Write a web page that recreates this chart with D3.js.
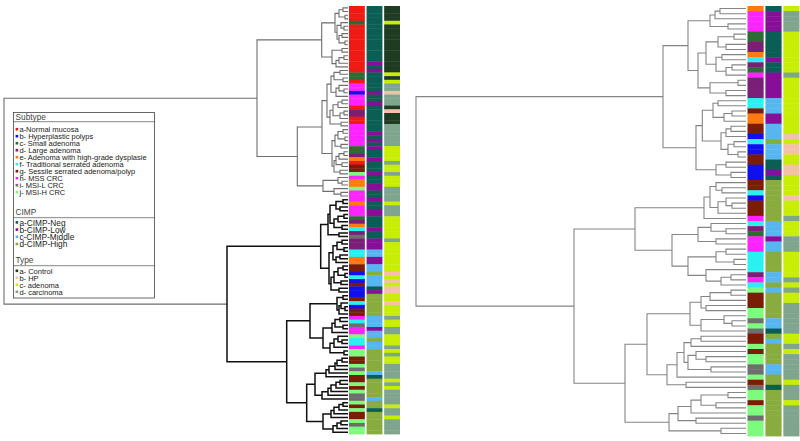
<!DOCTYPE html>
<html>
<head>
<meta charset="utf-8">
<script src="https://cdn.jsdelivr.net/npm/d3@7/dist/d3.min.js"></script>
<style>
  body { margin: 0; background: #fff; }
  text { font-family: "Liberation Sans", Arial, sans-serif; }
</style>
</head>
<body>
<div id="chart"></div>
<script>
// Leaf annotations, top to bottom, run-length coded: code letter + count
var leftSubtype = "a4 c1 a13 c2 a1 h2 b1 h3 a1 d2 a2 h6 c2 d1 e1 a1 g2 j1 h1 e2 j1 h3 e1 h3 c1 d1 e1 f1 d1 i1 d3 f2 e2 g2 b1 f1 b1 g1 b3 g1 f1 b1 g2 h1 f1 i1 h2 j1 f2 h1 j2 g2 j1 i1 j1 g2 j1 g1 j1 i2 j1 g1 j1 g2 j1 i1 j2";
var leftCimp = "a15 b1 a1 b1 a5 b1 a2 b1 a7 b1 a1 b1 a1 b1 a2 b1 a3 b1 a2 b2 a2 b1 a2 b2 a3 b1 a2 b3 c2 b2 c2 d1 c3 a1 b1 d6 c3 b1 c2 d1 c2 d6 c1 a1 d5 c1 d2 a1 d6";
var leftType = "a4 c1 a13 c1 a1 c1 d2 b1 d3 a1 b1 a3 d6 c4 d1 c2 d1 c3 d4 c1 d3 c6 d1 c8 b1 c1 b1 c1 b2 c2 b1 c3 d1 c2 d2 c3 d1 c1 d1 c2 d4 c1 d1 c1 d4 c1 d2 c1 d4";

var rightSubtype = "e1 h4 c2 d2 e1 f1 d1 c1 h1 d4 f2 g1 e2 g2 b1 f1 b2 g2 b3 g2 f1 b1 g3 h1 f1 d1 c1 h3 f4 d1 h1 f1 j1 g3 j2 i1 j1 i1 g2 j1 g1 j2 i2 j1 g1 i1 j2 g1 j2 i1 j3";
var rightCimp = "a1 b4 a5 b1 a2 b5 c3 b2 c3 d1 c3 a2 b1 a1 d8 c3 b1 c2 d4 c2 d1 c1 d5 c2 a1 d1 c1 d4 c2 d2 a1 d9";
var rightType = "c1 d4 c8 d1 c11 b1 c1 b2 c2 b2 c4 b1 c3 d1 c3 d3 c5 d1 c1 d1 c2 d6 c2 d1 c1 d5 c1 d3 c1 d6";

// merge height between neighbouring leaves (leaf i and i+1)
var leftHeights = [5, 9, 3, 13, 7, 4, 11, 6, 9, 3,
  26.3,
  6, 16, 4, 9, 12,
  91,
  8, 14, 5, 17, 9, 4, 12,
  21,
  6, 10, 15, 4, 8, 18, 7,
  26,
  5, 10, 3, 13, 7,
  16,
  4, 9, 12, 6, 14, 8,
  50.7,
  10, 6, 25, 14, 7,
  344,
  5, 12, 8, 18, 4, 10, 14, 6, 20, 9,
  27.3,
  6, 11, 4, 15, 8, 12, 19, 5, 10, 3, 14, 7, 17, 9,
  121,
  5, 11, 7, 3, 9,
  38,
  8, 13, 5, 16, 25, 10, 6, 14, 18, 4,
  61.3,
  6, 11, 13, 19, 22, 33, 8, 12, 17, 20, 26,
  41.3,
  5, 9, 14, 17, 25, 7, 11, 15];

var rightHeights = [26, 31, 36, 18, 58,
  12, 28, 20, 40, 24, 30, 14, 20, 48,
  8, 36, 20, 83,
  28, 33, 14, 22, 43.7,
  15, 20, 25, 12, 18, 8, 50,
  20, 30, 15, 330,
  30, 24, 36, 20, 14, 28, 42, 111,
  35, 20, 48, 30, 74,
  20, 30, 12, 58, 40, 15, 25, 172,
  15, 36, 45, 40, 56, 22, 14, 45, 99,
  45, 55, 62, 50, 40, 58, 35, 69, 79, 60, 121,
  18, 45, 30, 55, 68, 50, 77, 25];

var subtypeLabels = ["a-Normal mucosa", "b- Hyperplastic polyps", "c- Small adenoma", "d- Large adenoma",
  "e- Adenoma with high-grade dysplasie", "f- Traditional serrated adenoma",
  "g- Sessile serrated adenoma/polyp", "h- MSS CRC", "i- MSI-L CRC", "j- MSI-H CRC"];
var subtypeColors = ["#f01a14", "#1010ee", "#2e6b34", "#7a1f78", "#ff7b12", "#2af0f0",
  "#7a1c06", "#ff24ff", "#6e6e6e", "#7cfb7c"];
var cimpLabels = ["a-CIMP-Neg", "b-CIMP-Low", "c-CIMP-Middle", "d-CIMP-High"];
var cimpColors = ["#0b5e54", "#870e98", "#57b6f0", "#89ac3e"];
var typeLabels = ["a- Control", "b- HP", "c- adenoma", "d- carcinoma"];
var typeColors = ["#1f3c22", "#f4c0a9", "#c9ee05", "#7fa58e"];

var width = 800, height = 441;

var svg = d3.select("#chart").append("svg")
  .attr("width", width)
  .attr("height", height);

function expand(rle) {
  var out = [];
  rle.split(" ").forEach(function(t) {
    var n = +t.slice(1);
    for (var i = 0; i < n; i++) out.push(t[0]);
  });
  return out;
}

// rebuild the dendrogram: the highest neighbour merge splits the range
function buildTree(h, lo, hi) {
  if (lo === hi) return { leaf: lo, height: 0 };
  var k = lo;
  for (var i = lo; i < hi; i++) if (h[i] > h[k]) k = i;
  return { height: h[k], children: [buildTree(h, lo, k), buildTree(h, k + 1, hi)] };
}

function drawPanel(opt) {
  var n = opt.heights.length + 1;
  var g = svg.append("g");

  var y = d3.scaleBand().domain(d3.range(n)).range(opt.yRange);
  var x = d3.scaleLinear().domain([0, d3.max(opt.heights)]).range(opt.xRange);
  var col = d3.scaleBand().domain(["Subtype", "CIMP", "Type"]).range(opt.colRange).paddingInner(0.1);

  var root = d3.hierarchy(buildTree(opt.heights, 0, n - 1));
  root.eachAfter(function(d) {
    if (d.children) d.yc = (d.children[0].yc + d.children[1].yc) / 2;
    else d.yc = y(d.data.leaf) + y.bandwidth() / 2;
  });
  var dark = opt.darkBranch ? root.children[opt.darkBranch] : null;
  var darkSet = new Set(dark ? dark.descendants() : []);

  g.append("g").selectAll("path")
    .data(root.descendants().filter(function(d) { return d.children; }))
    .enter()
    .append("path")
    .attr("fill", "none")
    .attr("stroke", function(d) { return darkSet.has(d) ? "#111" : opt.color; })
    .attr("stroke-width", function(d) { return darkSet.has(d) ? 1.5 : 1.1; })
    .attr("d", function(d) {
      var a = d.children[0], b = d.children[1];
      return "M" + x(a.data.height) + "," + a.yc +
        "H" + x(d.data.height) + "V" + b.yc + "H" + x(b.data.height);
    });

  var columns = [
    { name: "Subtype", codes: expand(opt.subtype), colors: subtypeColors },
    { name: "CIMP", codes: expand(opt.cimp), colors: cimpColors },
    { name: "Type", codes: expand(opt.type), colors: typeColors }
  ];
  columns.forEach(function(c) {
    g.append("g").selectAll("rect")
      .data(c.codes)
      .enter()
      .append("rect")
      .attr("x", col(c.name))
      .attr("y", function(d, i) { return y(i); })
      .attr("width", col.bandwidth())
      .attr("height", y.bandwidth() + 0.4)
      .attr("fill", function(d) { return c.colors[d.charCodeAt(0) - 97]; });
  });
}

drawPanel({
  heights: leftHeights, subtype: leftSubtype, cimp: leftCimp, type: leftType,
  yRange: [6, 434], xRange: [348, 4], colRange: [349, 400],
  color: "#6f6f6f", darkBranch: 1
});

drawPanel({
  heights: rightHeights, subtype: rightSubtype, cimp: rightCimp, type: rightType,
  yRange: [6, 436], xRange: [746, 416], colRange: [747.5, 799.5],
  color: "#858585", darkBranch: 0
});

// Legend
var sections = [
  { title: "Subtype", labels: subtypeLabels, colors: subtypeColors, titleY: 120, lineY: 121.7, firstY: 129.3, step: 7, size: 7.5 },
  { title: "CIMP", labels: cimpLabels, colors: cimpColors, titleY: 214.5, lineY: 217.7, firstY: 222.5, step: 7.2, size: 8.3 },
  { title: "Type", labels: typeLabels, colors: typeColors, titleY: 263, lineY: 265.7, firstY: 270.9, step: 7, size: 7.5 }
];

var legend = svg.append("g");
legend.append("rect")
  .attr("x", 13.5).attr("y", 112.5)
  .attr("width", 141).attr("height", 185.5)
  .attr("fill", "#fff")
  .attr("stroke", "#444")
  .attr("stroke-width", 0.8);

sections.forEach(function(s) {
  var sg = legend.append("g");
  sg.append("text")
    .attr("x", 15.5).attr("y", s.titleY)
    .attr("font-size", 8.3)
    .attr("fill", "#444")
    .text(s.title);
  sg.append("line")
    .attr("x1", 13.5).attr("x2", 154.5)
    .attr("y1", s.lineY).attr("y2", s.lineY)
    .attr("stroke", "#555").attr("stroke-width", 0.7);
  var items = sg.selectAll(".item")
    .data(s.labels)
    .enter()
    .append("g")
    .attr("transform", function(d, i) { return "translate(0," + (s.firstY + i * s.step) + ")"; });
  items.append("rect")
    .attr("x", 15.6).attr("y", -1.4)
    .attr("width", 2.6).attr("height", 2.6)
    .attr("fill", function(d, i) { return s.colors[i]; });
  items.append("text")
    .attr("x", 19.4).attr("y", s.size * 0.36)
    .attr("font-size", s.size)
    .attr("fill", "#222")
    .text(function(d) { return d; });
});
</script>
</body>
</html>
